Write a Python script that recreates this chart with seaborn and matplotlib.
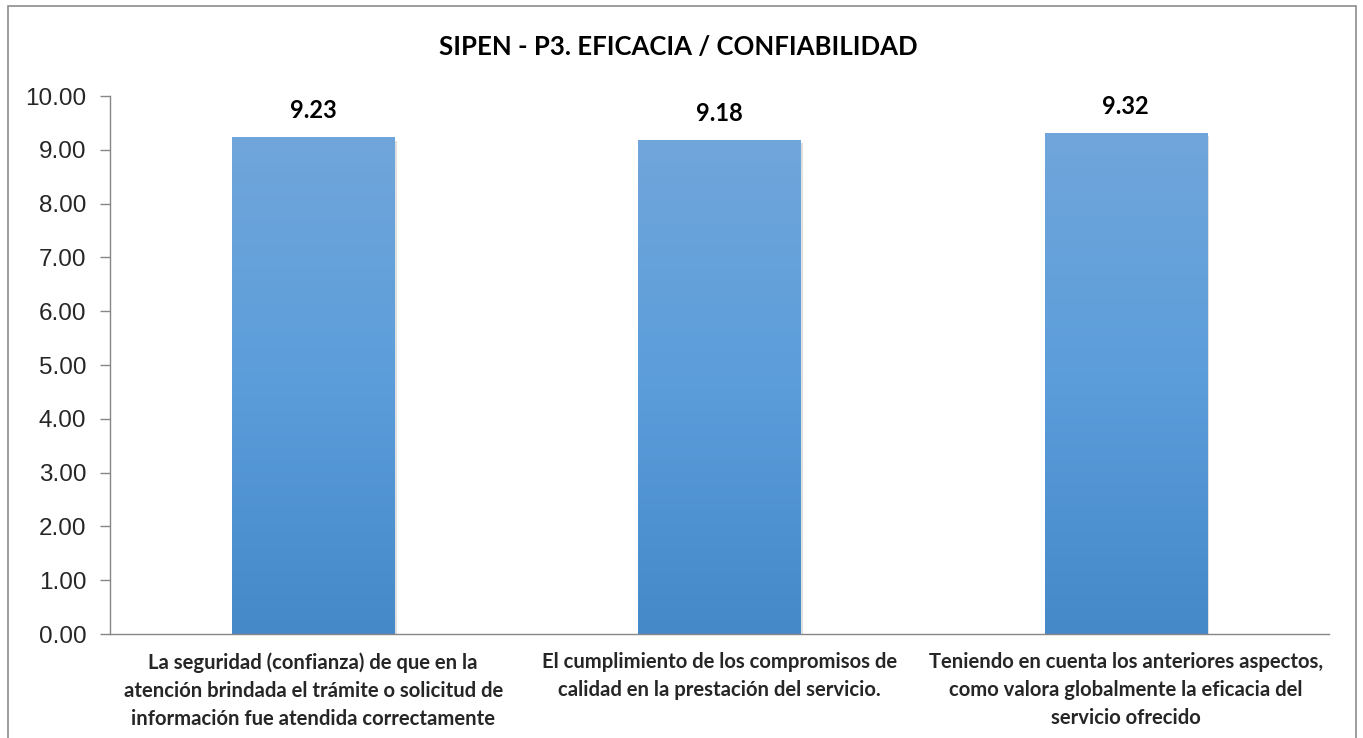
import matplotlib
matplotlib.use("Agg")
import matplotlib.pyplot as plt
import numpy as np
import pandas as pd
import seaborn as sns
from matplotlib.colors import LinearSegmentedColormap
from matplotlib.patches import Rectangle

categories = [
    "La seguridad (confianza) de que en la\natención brindada el trámite o solicitud de\ninformación fue atendida correctamente",
    "El cumplimiento de los compromisos de\ncalidad en la prestación del servicio.",
    "Teniendo en cuenta los anteriores aspectos,\ncomo valora globalmente la eficacia del\nservicio ofrecido",
]
scores = [9.23, 9.18, 9.32]
y_ticks = [0, 1, 2, 3, 4, 5, 6, 7, 8, 9, 10]
title = "SIPEN - P3. EFICACIA / CONFIABILIDAD"

df = pd.DataFrame({"pregunta": categories, "valor": scores})

sns.set_theme(style="white")
plt.rcParams["font.family"] = ["Lato", "DejaVu Sans"]

fig = plt.figure(figsize=(13.63, 7.38), dpi=100)
ax = fig.add_axes([0.0807, 0.1409, 0.8943, 0.729])

sns.barplot(data=df, x="pregunta", y="valor", ax=ax, width=0.4,
            color="#5B9BD5", saturation=1, edgecolor="none")

# vertical gradient fill like the office chart
grad = LinearSegmentedColormap.from_list("bar", ["#4589C9", "#5B9DDB", "#70A6DA"])
g = np.linspace(0, 1, 256).reshape(-1, 1)
for patch in ax.patches:
    x0, y0 = patch.get_x(), patch.get_y()
    w, h = patch.get_width(), patch.get_height()
    # soft shadow
    ax.add_patch(Rectangle((x0 + 0.006, y0 - 0.06), w, h, facecolor="#000000",
                           alpha=0.12, edgecolor="none", zorder=1.5))
    im = ax.imshow(g, cmap=grad, origin="lower", aspect="auto",
                   extent=(x0, x0 + w, y0, y0 + h), zorder=2)
    im.set_clip_path(patch)
    patch.set_zorder(2)
    ax.text(x0 + w / 2, h + 0.28, f"{h:.2f}", ha="center", va="bottom",
            fontsize=17, fontweight="bold", color="#000000")

ax.set_xlim(-0.5, len(categories) - 0.5)
ax.set_ylim(0, 10)
ax.set_yticks(y_ticks)
ax.set_yticklabels([f"{v:.2f}" for v in y_ticks], fontsize=17.5,
                   family=["Liberation Sans", "DejaVu Sans"])
ax.set_xticks(range(len(categories)))
ax.set_xticklabels(categories, fontsize=14.6, fontweight="bold",
                   linespacing=1.5)
ax.set_xlabel("")
ax.set_ylabel("")
ax.tick_params(axis="y", which="both", left=True, length=7, width=1,
               color="#868686", pad=10)
ax.tick_params(axis="x", bottom=False, pad=7)

for side in ["top", "right"]:
    ax.spines[side].set_visible(False)
for side in ["left", "bottom"]:
    ax.spines[side].set_color("#868686")
    ax.spines[side].set_linewidth(1)

fig.text(0.498, 0.936, title, ha="center", va="center", fontsize=18.5,
         fontweight="bold", color="#000000")

# chart area border (bottom edge cut off as in the source image)
fig.patches.append(Rectangle((0.0059, -0.05), 0.989, 1.0419, transform=fig.transFigure,
                             fill=False, edgecolor="#8C8C8C", linewidth=1.2))

fig.savefig("out.png", dpi=100)
